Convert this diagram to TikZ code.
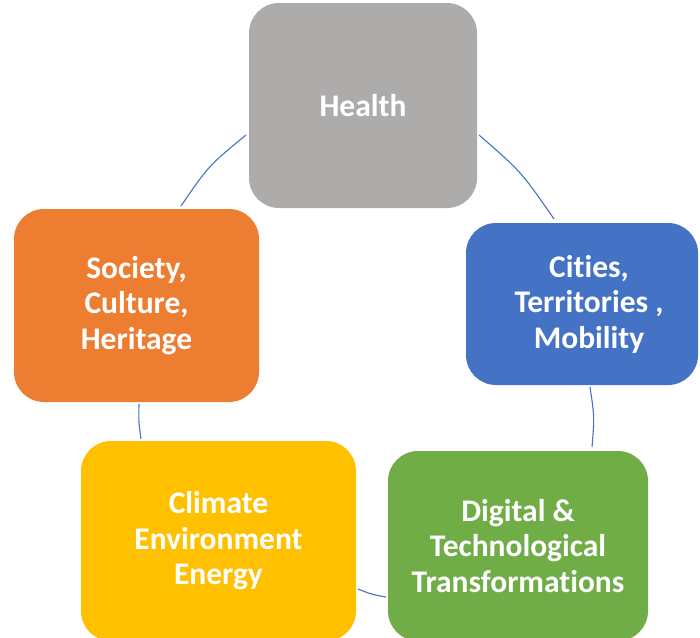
\documentclass[tikz,border=0pt]{standalone}
\usepackage{fontspec}
\setmainfont{Carlito}[RawFeature=-liga]
\usepackage{tikz}
\usetikzlibrary{positioning}
\definecolor{healthgray}{HTML}{AEABAB}
\definecolor{citiesblue}{HTML}{4472C4}
\definecolor{digitalgreen}{HTML}{70AD47}
\definecolor{climateyellow}{HTML}{FFC000}
\definecolor{societyorange}{HTML}{ED7D31}

\begin{document}
\begin{tikzpicture}[x=1pt,y=-1pt,
    theme/.style={rounded corners=30pt,inner sep=0pt,align=center,text=white,
        font=\bfseries\fontsize{31.5}{35.5}\selectfont},
    cycle/.style={draw=citiesblue,line width=1.1pt}]
    \clip (0,0) rectangle (700,637);
    \node[theme,fill=healthgray,minimum width=228,minimum height=205] (health) at (363,105.5) {Health};
    \node[theme,fill=citiesblue,minimum width=232,minimum height=162] (cities) at (582,304) {\hspace*{14pt}Cities,\\\hspace*{14pt}Territories ,\\\hspace*{14pt}Mobility};
    \node[theme,fill=digitalgreen,minimum width=260,minimum height=190] (digital) at (518,546) {Digital \&\\Technological\\Transformations};
    \node[theme,fill=climateyellow,minimum width=275,minimum height=200] (climate) at (218.5,541) {Climate\\Environment\\Energy};
    \node[theme,fill=societyorange,minimum width=245,minimum height=193] (society) at (136.5,305.5) {Society,\\Culture,\\Heritage};
    \coordinate (hc) at (479,135);
    \coordinate (ch) at (554,219);
    \coordinate (cd) at (590,387);
    \coordinate (dc) at (592,447);
    \coordinate (de) at (386,597);
    \coordinate (ed) at (358,589);
    \coordinate (es) at (141,439);
    \coordinate (se) at (139,404);
    \coordinate (sh) at (181,206);
    \coordinate (hs) at (246,135);
    \draw[cycle] (hc) .. controls (521.2,171.7) .. (ch);
    \draw[cycle] (cd) .. controls (594.5,417) .. (dc);
    \draw[cycle] (de) .. controls (372,594.5) .. (ed);
    \draw[cycle] (es) .. controls (138.6,421.5) .. (se);
    \draw[cycle] (sh) .. controls (208.5,165.8) .. (hs);
\end{tikzpicture}
\end{document}
